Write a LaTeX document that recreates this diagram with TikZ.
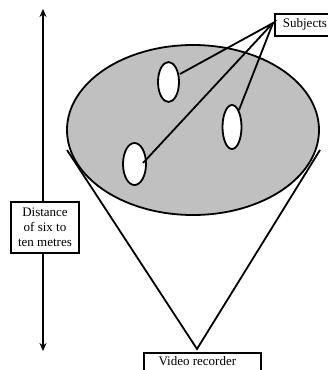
\documentclass[tikz,border=0pt]{standalone}
\usepackage{fontspec}
\setmainfont{Liberation Serif}
\usetikzlibrary{arrows.meta}
\definecolor{areagray}{RGB}{192,192,192}
\begin{document}
\begin{tikzpicture}[x=1pt,y=-1pt,
  ln/.style={line width=1.8pt},
  lab/.style={draw,line width=1.8pt,fill=white,font=\fontsize{13}{15}\selectfont,align=center,inner sep=3pt},
  tip/.style={-{Stealth[length=8pt,width=7pt]}}]
\useasboundingbox (0,0) rectangle (328,370);
\clip (0,0) rectangle (328,370);
% apex and cone
\coordinate (apex) at (197,349);
\coordinate (cl) at (67,150);
\coordinate (cr) at (320,150);
\draw[ln] (cl) -- (apex) -- (cr);
% big area ellipse
\draw[ln,fill=areagray] (193,130) ellipse [x radius=126, y radius=85];
% subjects
\draw[ln,fill=white] (168.5,82) ellipse [x radius=10.5, y radius=20];
\draw[ln,fill=white] (232,127) ellipse [x radius=9.5, y radius=22];
\draw[ln,fill=white] (134.5,164) ellipse [x radius=11.5, y radius=21];
\coordinate (s1) at (180,74);
\coordinate (s2) at (239,110);
\coordinate (s3) at (143,163);
% labels
\node[lab,anchor=north west,text width=60pt,align=left,inner xsep=8pt,inner ysep=5pt,text height=9pt,text depth=3pt] (subjects) at (274,13) {Subjects};
\coordinate (conv) at (273,23);
\draw[ln] (s1) -- (conv) -- (s3);
\draw[ln] (s2) -- (conv);
\node[lab,anchor=north west,minimum width=117pt,inner ysep=4pt,text height=9pt,text depth=3pt] (video) at (143,352) {Video recorder\hspace*{10pt}};
\node[lab,minimum width=68pt,minimum height=51pt,inner sep=2pt] (dist) at (45,227.5) {Distance\\of six to\\ten metres};
\coordinate (top) at (43,9);
\coordinate (bot) at (43,351);
\draw[ln,tip] (dist.north -| top) -- (top);
\draw[ln,tip] (dist.south -| bot) -- (bot);
\end{tikzpicture}
\end{document}
